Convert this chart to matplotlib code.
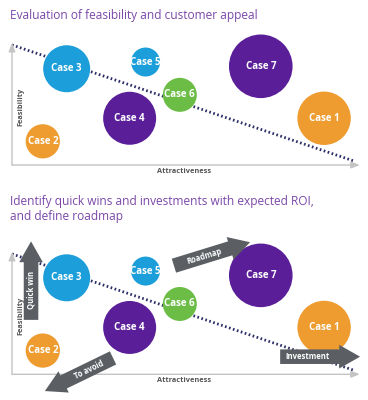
import matplotlib
matplotlib.use("Agg")
import matplotlib.pyplot as plt
from matplotlib.patches import FancyArrowPatch
import numpy as np

plt.rcParams['font.family'] = ['Open Sans', 'DejaVu Sans']

# ---------------- data ----------------
cases = ["Case 1", "Case 2", "Case 3", "Case 4", "Case 5", "Case 6", "Case 7"]
attractiveness = [9.02, 0.89, 1.58, 3.40, 3.86, 4.85, 7.19]
feasibility = [3.83, 1.94, 7.89, 3.83, 8.44, 5.75, 8.09]
bubble_radius = [26.7, 17.1, 23.5, 26.5, 14.5, 17.0, 31.8]   # relative size
case_colors = ["#ee9b2f", "#ee9b2f", "#1b9ed9", "#5a1f98", "#1b9ed9", "#6cbd46", "#5a1f98"]

divider_x = [0.0, 9.88]
divider_y = [9.84, 0.33]

title_top = "Evaluation of feasibility and customer appeal"
title_bottom = "Identify quick wins and investments with expected ROI,\nand define roadmap"

arrow_labels = ["Quick win", "Roadmap", "Investment", "To avoid"]
arrow_tail_x = [0.55, 4.68, 7.75, 2.92]
arrow_tail_y = [4.45, 8.88, 1.44, 1.34]
arrow_tip_x = [0.55, 6.88, 10.06, 0.95]
arrow_tip_y = [10.87, 10.80, 1.44, -1.37]
arrow_label_frac = [0.38, 0.40, 0.34, 0.35]

# ---------------- figure ----------------
W, H = 368, 400
fig = plt.figure(figsize=(W / 100, H / 100), dpi=100)
fig.patch.set_facecolor("white")

purple_title = "#7b48a8"
axis_gray = "#c4c4c4"
arrow_gray = "#5b5f64"


def px_axes(x0, y0_top, x1, y1_bottom):
    return fig.add_axes([x0 / W, 1 - y1_bottom / H, (x1 - x0) / W, (y1_bottom - y0_top) / H])


def draw_panel(ax):
    ax.set_xlim(0, 10)
    ax.set_ylim(0, 10)
    ax.axis("off")
    # axes with arrowheads
    ax.annotate("", xy=(10.05, 0), xytext=(0, 0),
                arrowprops=dict(arrowstyle="-|>,head_length=0.5,head_width=0.2",
                                color=axis_gray, lw=1.0, shrinkA=0, shrinkB=0),
                annotation_clip=False)
    ax.annotate("", xy=(0, 10.0), xytext=(0, 0),
                arrowprops=dict(arrowstyle="-|>,head_length=0.5,head_width=0.2",
                                color=axis_gray, lw=1.0, shrinkA=0, shrinkB=0),
                annotation_clip=False)
    ax.plot(divider_x, divider_y, linestyle=(0, (0.6, 0.9)), color="#2c2e66",
            lw=2.0, clip_on=False, zorder=1)
    sizes = [(2 * r * 0.72) ** 2 for r in bubble_radius]
    ax.scatter(attractiveness, feasibility, s=sizes, c=case_colors,
               edgecolors="none", zorder=3, clip_on=False)
    for name, x, y in zip(cases, attractiveness, feasibility):
        ax.text(x, y, name, ha="center", va="center", color="white",
                fontsize=7, fontweight="bold", zorder=4)
    ax.text(0.25, 4.8, "Feasibility", rotation=90, ha="center", va="center",
            fontsize=5.3, fontweight="bold", color="#555555")
    ax.text(4.97, -0.5, "Attractiveness", ha="center", va="center",
            fontsize=5.3, fontweight="bold", color="#555555")


ax1 = px_axes(12, 43, 358, 165)
draw_panel(ax1)
ax2 = px_axes(12, 252, 358, 374.3)
draw_panel(ax2)

fig.text(10 / W, 1 - 16 / H, title_top, ha="left", va="center",
         fontsize=8.6, color=purple_title)
fig.text(10 / W, 1 - 209 / H, title_bottom, ha="left", va="center",
         fontsize=8.6, color=purple_title, linespacing=1.2)

# arrows on bottom panel
for lab, tx, ty, hx, hy, f in zip(arrow_labels, arrow_tail_x, arrow_tail_y,
                                  arrow_tip_x, arrow_tip_y, arrow_label_frac):
    arr = FancyArrowPatch((tx, ty), (hx, hy),
                          arrowstyle="simple,head_length=15,head_width=17,tail_width=10.5",
                          mutation_scale=1, color=arrow_gray, shrinkA=0, shrinkB=0,
                          zorder=5, clip_on=False, lw=0)
    ax2.add_patch(arr)
    p0 = ax2.transData.transform((tx, ty))
    p1 = ax2.transData.transform((hx, hy))
    ang = np.degrees(np.arctan2(p1[1] - p0[1], p1[0] - p0[0]))
    if ang > 90:
        ang -= 180
    elif ang < -90:
        ang += 180
    mx = tx + (hx - tx) * f
    my = ty + (hy - ty) * f
    ax2.text(mx, my, lab, rotation=ang, rotation_mode="anchor", ha="center",
             va="center", color="white", fontsize=5.5, fontweight="bold", zorder=6,
             clip_on=False)

fig.savefig("out.png", dpi=100)
